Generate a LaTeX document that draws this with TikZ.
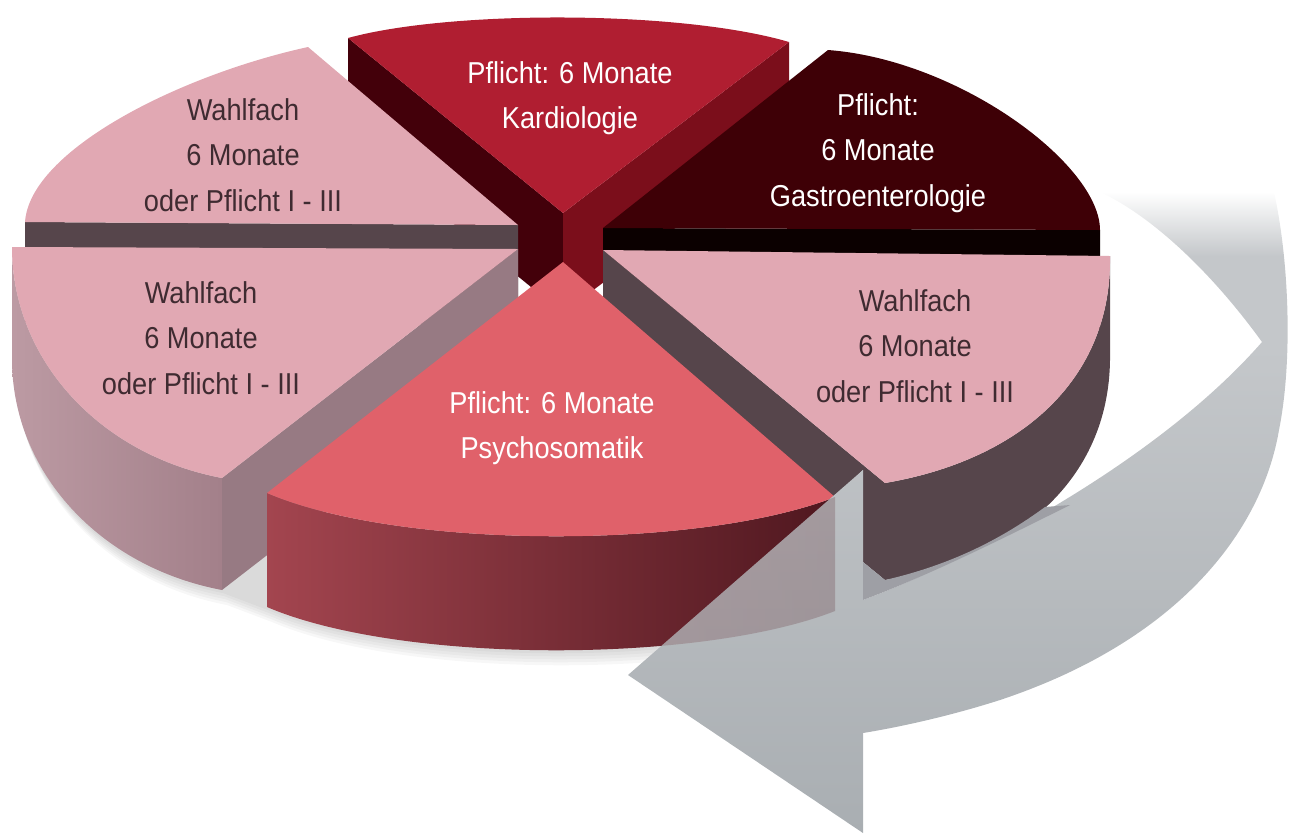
\documentclass[tikz,border=0pt]{standalone}
\usepackage{fontspec}
\setmainfont{Liberation Sans}[FakeStretch=0.9]
\usetikzlibrary{calc}
\definecolor{kardtop}{HTML}{B01E31}
\definecolor{kardleft}{HTML}{43000A}
\definecolor{kardright}{HTML}{7B0E1B}
\definecolor{gastrotop}{HTML}{3E0006}
\definecolor{gastroside}{HTML}{0B0000}
\definecolor{wahltop}{HTML}{E1A8B3}
\definecolor{wahlside}{HTML}{56454B}
\definecolor{wahlrad}{HTML}{977A83}
\definecolor{wahlouterA}{HTML}{BC9AA3}
\definecolor{wahlouterB}{HTML}{A3808A}
\definecolor{psychtop}{HTML}{E0616A}
\definecolor{psychA}{HTML}{A3454F}
\definecolor{psychB}{HTML}{4F171F}
\definecolor{wahltext}{HTML}{3F2B31}
\definecolor{arrowlight}{HTML}{C4C7CA}
\definecolor{arrowdark}{HTML}{A9AEB2}
\definecolor{arrowshadow}{HTML}{9E9FA5}
\pgfdeclareverticalshading{arrowshade}{100bp}{color(0bp)=(arrowdark); color(25bp)=(arrowdark); color(63bp)=(arrowlight); color(70bp)=(arrowlight); color(75bp)=(white); color(100bp)=(white)}
% radial wall of a slice: top edge (a)--(b), pushed down by #6
\def\wall[#1](#2,#3)(#4,#5)#6{\fill[#1] (#2,#3) -- (#4,#5) -- (#4,#5+#6) -- (#2,#3+#6) -- cycle;}

\begin{document}
\begin{tikzpicture}[x=0.02cm,y=-0.02cm,
	lblw/.style={align=center, text=white, font=\fontsize{17.2}{25.8}\selectfont},
	lbld/.style={align=center, text=wahltext, font=\fontsize{17.2}{25.8}\selectfont}]
			%%%%% START %%%%%
			\useasboundingbox (0,0) rectangle (1289,833);
			
			% soft shadow under the front slices
			\foreach \d in {3,6,9,12,15}
				\fill[black, opacity=0.03, shift={(\d/3,\d)}] (12,247) -- (12,359) .. controls (12,472) and (100,567) .. (222,590) -- (267,607) .. controls (400,664) and (700,664) .. (835,611) -- (835,497) -- cycle;
			
			% Kardiologie (back)
			\wall[kardleft](348,38)(563,213){100}
			\wall[kardright](563,213)(789,42){100}
			\fill[kardtop] (563,213) -- (348,38) .. controls (450,10) and (680,10) .. (789,42) -- cycle;
			
			% Gastroenterologie
			\wall[gastroside](603,228)(1100,230){100}
			\fill[gastrotop] (603,228) -- (828,50) .. controls (960,60) and (1100,165) .. (1100,230) -- cycle;
			
			% Wahlfach links oben
			\wall[wahlside](518,225)(25,222){100}
			\fill[wahltop] (518,225) -- (308,47) .. controls (180,75) and (30,150) .. (25,222) -- cycle;
			
			% Wahlfach links unten
			\shade[left color=wahlouterA, right color=wahlouterB] (12,247) .. controls (12,360) and (100,455) .. (222,478) -- (222,590) .. controls (100,567) and (12,472) .. (12,359) -- cycle;
			\wall[wahlrad](518,249)(222,478){112}
			\fill[wahltop] (518,249) -- (12,247) .. controls (12,360) and (100,455) .. (222,478) -- cycle;
			
			% Wahlfach rechts
			\fill[wahlside] (603,250) -- (885,483) -- (885,580) -- (863,562) -- (863,470) -- (835,497) -- (603,347) -- cycle;
			\fill[wahlside] (1110,256) .. controls (1112,380) and (1020,460) .. (885,483) -- (885,580) .. controls (1020,557) and (1112,477) .. (1110,353) -- cycle;
			\fill[wahltop] (603,250) -- (1110,256) .. controls (1112,380) and (1020,460) .. (885,483) -- cycle;
			
			% Psychosomatik (front)
			\shade[left color=psychA, right color=psychB] (267,493) .. controls (400,550) and (700,550) .. (835,497) -- (835,611) .. controls (700,664) and (400,664) .. (267,607) -- cycle;
			\fill[psychtop] (563,262) -- (267,493) .. controls (400,550) and (700,550) .. (835,497) -- cycle;
			
			% arrow round the pie
			\shade[shading=arrowshade] (863,470) -- (863,600) .. controls (950,568) and (1150,470) .. (1262,342) .. controls (1210,270) and (1150,215) .. (1100,192) -- (1274,192) .. controls (1289,260) and (1293,360) .. (1279,430) .. controls (1262,530) and (1180,640) .. (1000,700) .. controls (950,716) and (900,727) .. (863,733) -- (863,833) -- (628,675) -- cycle;
			\fill[arrowshadow] (863,562) -- (863,600) .. controls (930,575) and (1010,535) .. (1070,505) -- (1045,507) .. controls (1000,540) and (950,565) .. (885,580) -- cycle;
			% Psychosomatik shows through the arrow head
			\begin{scope}
				\clip (863,470) -- (863,833) -- (628,675) -- cycle;
				\shade[left color=psychA, right color=psychB, opacity=0.22] (267,493) .. controls (400,550) and (700,550) .. (835,497) -- (835,611) .. controls (700,664) and (400,664) .. (267,607) -- cycle;
			\end{scope}
			
			% labels
			\node[lblw] (pflichtKard) at (570,98) {Pflicht: 6 Monate\\Kardiologie};
			\node[lblw] (pflichtGastro) at (878,153) {Pflicht:\\6 Monate\\Gastroenterologie};
			\node[lbld] (wahlObenLinks) at (243,155) {Wahlfach\\6 Monate\\oder Pflicht I - III};
			\node[lbld] (wahlUntenLinks) at (201,338) {Wahlfach\\6 Monate\\oder Pflicht I - III};
			\node[lbld] (wahlRechts) at (915,346) {Wahlfach\\6 Monate\\oder Pflicht I - III};
			\node[lblw] (pflichtPsych) at (552,428) {Pflicht: 6 Monate\\Psychosomatik};
			%%%%% END %%%%%
\end{tikzpicture}
\end{document}
